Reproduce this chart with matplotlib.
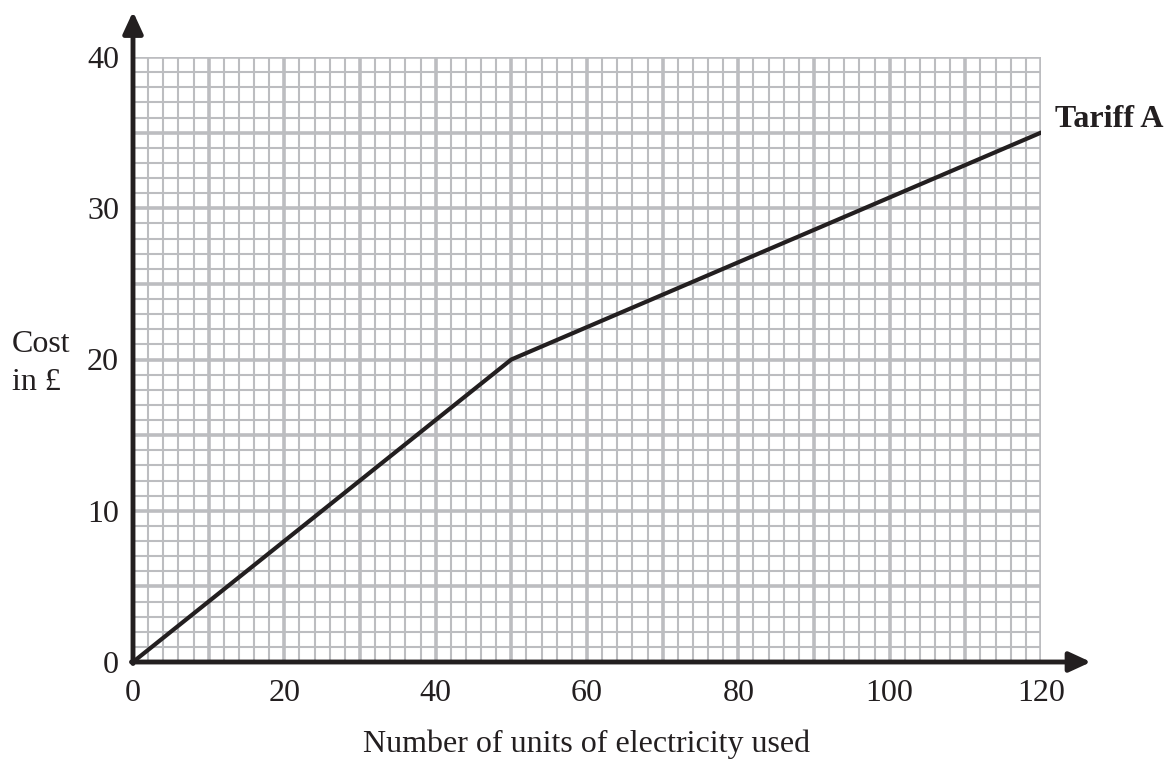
import numpy as np
import matplotlib.pyplot as plt

# data
units = [0, 50, 120]
cost = [0, 20, 35]
x_ticks = [0, 20, 40, 60, 80, 100, 120]
y_ticks = [0, 10, 20, 30, 40]

plt.rcParams['font.family'] = 'Liberation Serif'

fig = plt.figure(figsize=(11.66, 7.6), dpi=100)
ax = fig.add_axes([133/1166, 98/760, 908/1166, 605/760])

grid_col = '#bcbdc0'
# grid: fine lines every 2 units / 1 unit, heavier every 10 / 5
for xv in np.arange(0, 121, 2):
    lw = 2.6 if xv % 10 == 0 else 1.5
    ax.axvline(xv, color=grid_col, lw=lw, zorder=1)
for yv in np.arange(0, 41, 1):
    lw = 2.6 if yv % 5 == 0 else 1.5
    ax.axhline(yv, color=grid_col, lw=lw, zorder=1)

ax.plot(units, cost, color='#231f20', lw=3, zorder=3, solid_capstyle='round')

ax.set_xlim(0, 120)
ax.set_ylim(0, 40)
for s in ax.spines.values():
    s.set_visible(False)

# axes with arrows
arrow = dict(arrowstyle='-|>,head_length=1.3,head_width=0.6',
             color='#231f20', lw=3.5, shrinkA=0, shrinkB=0)
ax.annotate('', xy=(126.6, 0), xytext=(-0.2, 0), arrowprops=arrow,
            annotation_clip=False, zorder=4)
ax.annotate('', xy=(0, 43.0), xytext=(0, -0.1), arrowprops=arrow,
            annotation_clip=False, zorder=4)

ax.set_xticks(x_ticks)
ax.set_yticks(y_ticks)
ax.tick_params(length=0, labelsize=23, colors='#231f20')
ax.tick_params(axis='x', pad=12)
ax.tick_params(axis='y', pad=10)

ax.set_xlabel('Number of units of electricity used', fontsize=23, labelpad=16, color='#231f20')
fig.text(12/1166, 1 - 352/760, 'Cost', fontsize=23, ha='left', va='baseline', color='#231f20')
fig.text(12/1166, 1 - 390/760, 'in £', fontsize=23, ha='left', va='baseline', color='#231f20')
ax.text(121.8, 35.9, 'Tariff A', fontsize=23, fontweight='bold', ha='left', va='center',
        color='#231f20')

fig.savefig('out.png', dpi=100)
